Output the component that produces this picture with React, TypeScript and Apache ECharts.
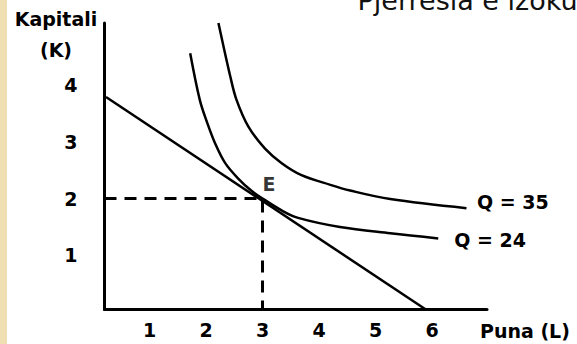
import React, { useEffect, useRef } from "react";
import * as echarts from "echarts";

// Tick labels
const L_TICKS = [1, 2, 3, 4, 5, 6];
const K_TICKS = [1, 2, 3, 4];

// Budget (isocost) line end points
const BUDGET_L = [0.23, 5.91];
const BUDGET_K = [3.78, 0.04];

// Isoquant Q = 24
const Q24_L = [1.72, 1.89, 2.01, 2.16, 2.34, 2.57, 2.81, 3.0, 3.34, 3.63, 4.37, 5.26, 6.11];
const Q24_K = [4.55, 3.73, 3.36, 2.97, 2.62, 2.35, 2.13, 2.0, 1.79, 1.66, 1.5, 1.39, 1.3];

// Isoquant Q = 35
const Q35_L = [2.22, 2.43, 2.54, 2.75, 3.04, 3.34, 3.69, 4.2, 4.55, 5.26, 6.61];
const Q35_K = [5.08, 4.14, 3.73, 3.26, 2.88, 2.62, 2.41, 2.24, 2.14, 1.99, 1.83];

// Equilibrium point E
const E_L = 3;
const E_K = 2;

const X_MIN = 0.2035;
const X_MAX = 6.973;
const Y_MIN = 0.0526;
const Y_MAX = 5.079;

const FONT = "DejaVu Sans";

const zip = (a: number[], b: number[]) => a.map((v, i) => [v, b[i]]);

export default function App() {
  const ref = useRef<HTMLDivElement>(null);
  useEffect(() => {
    if (!ref.current) return;
    const chart = echarts.init(ref.current, undefined, { renderer: "svg" });
    const labelStyle = { fontFamily: FONT, fontWeight: "bold" as const, fontSize: 19, color: "#000" };
    chart.setOption({
      animation: false,
      backgroundColor: "#fff",
      grid: { left: 104.5, right: 90, top: 23, bottom: 34.5 },
      xAxis: {
        type: "value",
        min: X_MIN,
        max: X_MAX,
        axisLine: { show: true, lineStyle: { color: "#000", width: 3 } },
        axisTick: { show: false },
        splitLine: { show: false },
        axisLabel: { ...labelStyle, margin: 11, customValues: L_TICKS },
      },
      yAxis: {
        type: "value",
        min: Y_MIN,
        max: Y_MAX,
        axisLine: { show: true, lineStyle: { color: "#000", width: 3 } },
        axisTick: { show: false },
        splitLine: { show: false },
        axisLabel: { ...labelStyle, margin: 27, customValues: K_TICKS },
      },
      graphic: [
        { type: "rect", left: 0, top: 0, shape: { width: 7, height: 344 }, style: { fill: "#EFDFB3" }, z: 100 },
        {
          type: "text",
          x: 357.5,
          y: 0.7,
          style: { text: "Pjerrësia e izokuantit", font: `27px "${FONT}"`, fill: "#111", textVerticalAlign: "middle" },
        },
        {
          type: "text",
          x: 56,
          y: 3.75,
          style: {
            text: "Kapitali\n(K)",
            font: `bold 19px "${FONT}"`,
            fill: "#000",
            textAlign: "center",
            textVerticalAlign: "top",
            lineHeight: 30.5,
          },
        },
        {
          type: "text",
          x: 480,
          y: 330.5,
          style: { text: "Puna (L)", font: `bold 19px "${FONT}"`, fill: "#000", textVerticalAlign: "middle" },
        },
      ],
      series: [
        {
          type: "line",
          data: zip(BUDGET_L, BUDGET_K),
          showSymbol: false,
          lineStyle: { color: "#000", width: 2.5 },
        },
        {
          type: "line",
          data: zip(Q24_L, Q24_K),
          showSymbol: false,
          smooth: 0.35,
          lineStyle: { color: "#000", width: 2.5 },
          endLabel: { show: true, formatter: "Q = 24", distance: 16, offset: [0, 1.5], ...labelStyle },
        },
        {
          type: "line",
          data: zip(Q35_L, Q35_K),
          showSymbol: false,
          smooth: 0.35,
          lineStyle: { color: "#000", width: 2.5 },
          endLabel: { show: true, formatter: "Q = 35", distance: 10.5, offset: [0, -6], ...labelStyle },
        },
        {
          type: "line",
          data: [
            [X_MIN, E_K],
            [E_L, E_K],
            [E_L, Y_MIN],
          ],
          showSymbol: false,
          lineStyle: { color: "#000", width: 3, type: [12, 8] },
        },
        {
          type: "scatter",
          data: [[E_L, E_K]],
          symbolSize: 0,
          label: { show: true, formatter: "E", position: "top", distance: 5, offset: [6.5, 0], ...labelStyle },
        },
      ],
    });
    return () => chart.dispose();
  }, []);
  return (
    <div
      ref={ref}
      style={{ position: "absolute", left: 0, top: 0, width: 577, height: 344, background: "#fff" }}
    />
  );
}
